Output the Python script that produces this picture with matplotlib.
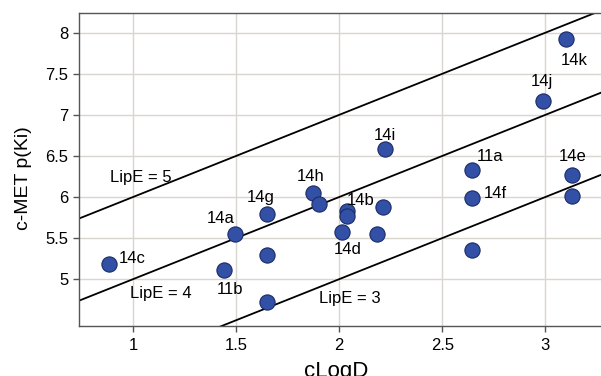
import numpy as np
import matplotlib
matplotlib.use('Agg')
import matplotlib.pyplot as plt
from matplotlib.ticker import FuncFormatter

plt.rcParams['font.family'] = ['Liberation Sans', 'DejaVu Sans']

# compound data: cLogD vs c-MET p(Ki)
clogd = [0.882, 1.494, 1.648, 1.648, 1.441, 1.648, 1.871, 1.903, 2.036, 2.039,
         2.015, 2.185, 2.211, 2.222, 2.646, 2.646, 2.646, 2.990, 3.102, 3.131, 3.131]
pki = [5.19, 5.55, 5.79, 5.295, 5.11, 4.725, 6.05, 5.91, 5.83, 5.77,
       5.58, 5.55, 5.88, 6.58, 6.33, 5.99, 5.35, 7.17, 7.92, 6.27, 6.01]
names = ['14c', '14a', '14g', '', '11b', '', '14h', '', '14b', '',
         '14d', '', '', '14i', '11a', '14f', '', '14j', '14k', '14e', '']
# label offsets in pixels (dx, dy)
offsets = [(24, 5), (-14, 15), (-6, 17), (0, 0), (6, -19), (0, 0), (-2, 16), (0, 0), (14, 10), (0, 0),
           (5, -18), (0, 0), (0, 0), (0, 14), (18, 13), (23, 4), (0, 0), (-1, 19), (8, -21), (0, 18), (0, 0)]

lipe_values = [5, 4, 3]
lipe_label_pos = [(1.04, 6.24), (1.136, 4.83), (2.05, 4.77)]

xmin, xmax = 0.738, 3.27
ymin, ymax = 4.43, 8.24

fig = plt.figure(figsize=(6.01, 3.76), dpi=100)
ax = fig.add_axes([79 / 601, 1 - 326 / 376, 1 - 79 / 601, (326 - 13) / 376])

ax.set_xlim(xmin, xmax)
ax.set_ylim(ymin, ymax)
ax.set_xticks([1, 1.5, 2, 2.5, 3])
ax.set_yticks([5, 5.5, 6, 6.5, 7, 7.5, 8])
fmt = FuncFormatter(lambda v, p: ('%g' % v))
ax.xaxis.set_major_formatter(fmt)
ax.yaxis.set_major_formatter(fmt)
ax.grid(True, color='#d9d6cf', linewidth=1.0)
ax.set_axisbelow(True)

xs = np.array([xmin, xmax])
for lv, (tx, ty) in zip(lipe_values, lipe_label_pos):
    ax.plot(xs, xs + lv, color='black', linewidth=1.3, zorder=2)
    ax.text(tx, ty, 'LipE = %d' % lv, fontsize=12, ha='center', va='center', zorder=4)

ax.scatter(clogd, pki, s=120, color='#3251a6', edgecolors='#1c2b66', linewidths=0.8, zorder=3)
for x, y, n, (dx, dy) in zip(clogd, pki, names, offsets):
    if n:
        ax.annotate(n, (x, y), xytext=(dx, dy), textcoords='offset pixels',
                    fontsize=12, ha='center', va='center', zorder=4)

for side in ['left', 'bottom', 'top']:
    ax.spines[side].set_color('#555555')
    ax.spines[side].set_linewidth(1.0)
ax.spines['right'].set_visible(False)
ax.tick_params(direction='out', length=4, width=1, colors='#555555', labelcolor='black', labelsize=12)
ax.tick_params(axis='x', pad=5)

ax.set_xlabel('cLogD', fontsize=16)
ax.set_ylabel('c-MET p(Ki)', fontsize=14)
ax.xaxis.set_label_coords(0.493, -0.112)
ax.yaxis.set_label_coords(-0.09, 0.473)

fig.savefig('out.png', dpi=100)
